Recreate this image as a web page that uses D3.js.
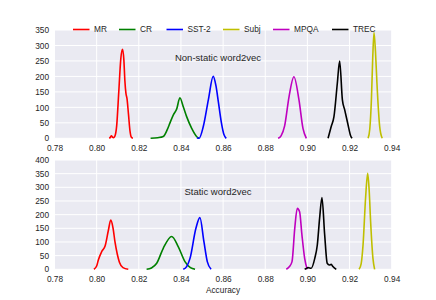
<!DOCTYPE html>
<html><head><meta charset="utf-8">
<script src="https://cdn.jsdelivr.net/npm/d3@7"></script>
<style>body{margin:0;background:#fff;} text{font-family:"Liberation Sans",Arial,sans-serif;}</style>
</head><body>
<script>
const seriesNames = ["MR","CR","SST-2","Subj","MPQA","TREC"];
const seriesColors = ["#ff0000","#008000","#0000ff","#bfbf00","#bf00bf","#000000"];
const xTicks = [0.78,0.80,0.82,0.84,0.86,0.88,0.90,0.92,0.94];
const yTicksTop = [0,50,100,150,200,250,300,350];
const yTicksBottom = [0,50,100,150,200,250,300,350,400];
const titles = ["Non-static word2vec","Static word2vec"];

// Non-static curves: [accuracy, density]
const topMR = [[0.8060,0],[0.8065,3],[0.8070,8],[0.8075,4],[0.8080,2],[0.8086,6],[0.8095,40],[0.8105,150],[0.8115,260],[0.8123,288],[0.8129,255],[0.8134,185],[0.8139,145],[0.8144,128],[0.8151,78],[0.8158,25],[0.8165,3],[0.8172,0]];
const topCR = [[0.8256,0],[0.8290,2],[0.8316,6],[0.8335,28],[0.8348,50],[0.8364,76],[0.8380,95],[0.8395,131],[0.8411,102],[0.8427,70],[0.8451,32],[0.8475,5],[0.8486,0]];
const topSST2 = [[0.8476,2],[0.8486,0],[0.8506,38],[0.8530,124],[0.8553,200],[0.8566,170],[0.8578,115],[0.8592,50],[0.8604,12],[0.8615,0]];
const topSubj = [[0.9288,0],[0.9296,30],[0.9304,130],[0.9310,260],[0.9316,342],[0.9323,280],[0.9330,178],[0.9343,38],[0.9355,0]];
const topMPQA = [[0.8861,0],[0.8875,8],[0.8892,40],[0.8913,135],[0.8936,199],[0.8960,124],[0.8979,32],[0.8995,0]];
const topTREC = [[0.9098,0],[0.9113,38],[0.9126,70],[0.9142,178],[0.9153,250],[0.9166,124],[0.9177,92],[0.9193,43],[0.9205,8],[0.9212,0]];

// Static curves
const botMR = [[0.7987,0],[0.8000,12],[0.8008,34],[0.8024,65],[0.8040,85],[0.8055,140],[0.8067,180],[0.8078,150],[0.8087,100],[0.8098,55],[0.8108,26],[0.8125,6],[0.8150,0]];
const botCR = [[0.8237,0],[0.8260,5],[0.8285,22],[0.8316,77],[0.8356,120],[0.8387,83],[0.8419,28],[0.8445,6],[0.8467,0]];
const botSST2 = [[0.8411,0],[0.8427,10],[0.8443,40],[0.8471,150],[0.8490,189],[0.8509,101],[0.8525,28],[0.8543,0]];
const botSubj = [[0.9245,0],[0.9255,20],[0.9264,89],[0.9276,260],[0.9286,351],[0.9293,290],[0.9300,174],[0.9311,40],[0.9319,0]];
const botMPQA = [[0.8900,0],[0.8915,10],[0.8927,28],[0.8940,150],[0.8952,223],[0.8963,211],[0.8974,126],[0.8987,40],[0.8999,0]];
const botTREC = [[0.8987,0],[0.8995,3],[0.9003,6],[0.9018,4],[0.9035,40],[0.9047,89],[0.9058,187],[0.9069,263],[0.9082,126],[0.9094,22],[0.9104,16],[0.9113,18],[0.9121,10],[0.9137,0]];

const topData = [topMR, topCR, topSST2, topSubj, topMPQA, topTREC];
const botData = [botMR, botCR, botSST2, botSubj, botMPQA, botTREC];

const W = 436, H = 300;
const svg = d3.select("body").append("svg").attr("width", W).attr("height", H);
const x = d3.scaleLinear().domain([0.78, 0.94]).range([54.5, 391.7]);

const panels = [
  {data: topData, yMax: 350, ticks: yTicksTop, top: 30, bottom: 138.3, title: titles[0], tx: 218, ty: 60.5},
  {data: botData, yMax: 400, ticks: yTicksBottom, top: 160, bottom: 269.3, title: titles[1], tx: 218, ty: 195}
];

panels.forEach(p => {
  const y = d3.scaleLinear().domain([0, p.yMax]).range([p.bottom, p.top]);
  const g = svg.append("g");
  g.append("rect").attr("x", x.range()[0]).attr("y", p.top)
    .attr("width", x.range()[1] - x.range()[0]).attr("height", p.bottom - p.top)
    .attr("fill", "#eaeaf2");
  g.selectAll(".vg").data(xTicks).enter().append("line")
    .attr("x1", d => x(d)).attr("x2", d => x(d)).attr("y1", p.top).attr("y2", p.bottom)
    .attr("stroke", "#fff").attr("stroke-width", 1);
  g.selectAll(".hg").data(p.ticks).enter().append("line")
    .attr("x1", x.range()[0]).attr("x2", x.range()[1]).attr("y1", d => y(d)).attr("y2", d => y(d))
    .attr("stroke", "#fff").attr("stroke-width", 1);
  const xa = g.append("g").attr("transform", `translate(0,${p.bottom})`)
    .call(d3.axisBottom(x).tickValues(xTicks).tickFormat(d3.format(".2f")).tickSize(0).tickPadding(6.5));
  const ya = g.append("g").attr("transform", `translate(${x.range()[0]},0)`)
    .call(d3.axisLeft(y).tickValues(p.ticks).tickSize(0).tickPadding(5.5));
  [xa, ya].forEach(a => {
    a.select(".domain").remove();
    a.selectAll("text").attr("font-size", 8.3).attr("fill", "#262626")
      .attr("font-family", "'Liberation Sans', Arial, sans-serif");
  });
  const line = d3.line().x(d => x(d[0])).y(d => y(d[1])).curve(d3.curveMonotoneX);
  p.data.forEach((s, i) => {
    g.append("path").datum(s).attr("d", line).attr("fill", "none")
      .attr("stroke", seriesColors[i]).attr("stroke-width", 1.6).attr("stroke-linejoin", "round");
  });
  g.append("text").attr("x", p.tx).attr("y", p.ty).attr("text-anchor", "middle")
    .attr("font-size", 9.5).attr("fill", "#262626").text(p.title);
});

svg.append("text").attr("x", 223).attr("y", 292.5).attr("text-anchor", "middle")
  .attr("font-size", 8.3).attr("fill", "#262626").text("Accuracy");

const legX = [73, 119, 166.5, 223, 273, 332];
const leg = svg.append("g");
seriesNames.forEach((n, i) => {
  leg.append("line").attr("x1", legX[i]).attr("x2", legX[i] + 16.5).attr("y1", 29.5).attr("y2", 29.5)
    .attr("stroke", seriesColors[i]).attr("stroke-width", 1.6);
  leg.append("text").attr("x", legX[i] + 21).attr("y", 32.3).attr("font-size", 8.3)
    .attr("fill", "#262626").text(n);
});
</script>
</body></html>
